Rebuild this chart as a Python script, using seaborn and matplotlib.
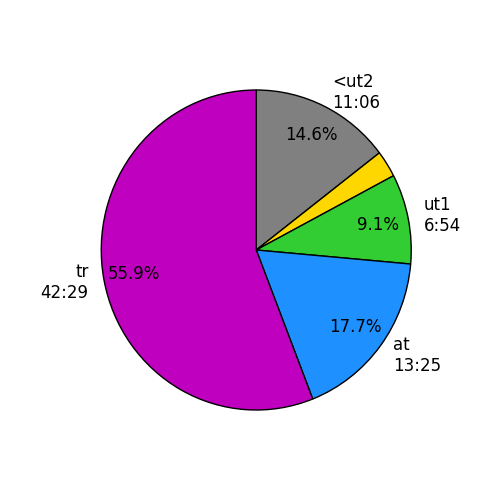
import matplotlib
matplotlib.use('Agg')
import matplotlib.pyplot as plt
import seaborn as sns

# durations in seconds
names = ['<ut2', '', 'ut1', 'at', 'tr']
seconds = [666, 123, 414, 805, 2549]
colors = ['grey', 'gold', 'limegreen', 'dodgerblue', 'm']


def fmt_time(s):
    return '%d:%02d' % (s // 60, s % 60)


labels = [n + '\n' + fmt_time(s) if n else '' for n, s in zip(names, seconds)]


def autopct(p):
    return '%.1f%%' % p if p > 5 else ''


sns.set_style('white')
plt.rcParams['font.family'] = ['DejaVu Sans']
plt.rcParams['text.color'] = 'black'

fig = plt.figure(figsize=(5, 5), dpi=100)
ax = fig.add_axes([0.125, 0.1, 0.775, 0.8])
ax.pie(seconds, labels=labels, colors=colors, autopct=autopct,
       startangle=90, counterclock=False, pctdistance=0.8,
       wedgeprops={'edgecolor': 'black', 'linewidth': 1},
       textprops={'fontsize': 12, 'color': 'black'})
# the original pie is slightly taller than wide
ax.set_aspect('auto')
fig.savefig('out.png', dpi=100)
